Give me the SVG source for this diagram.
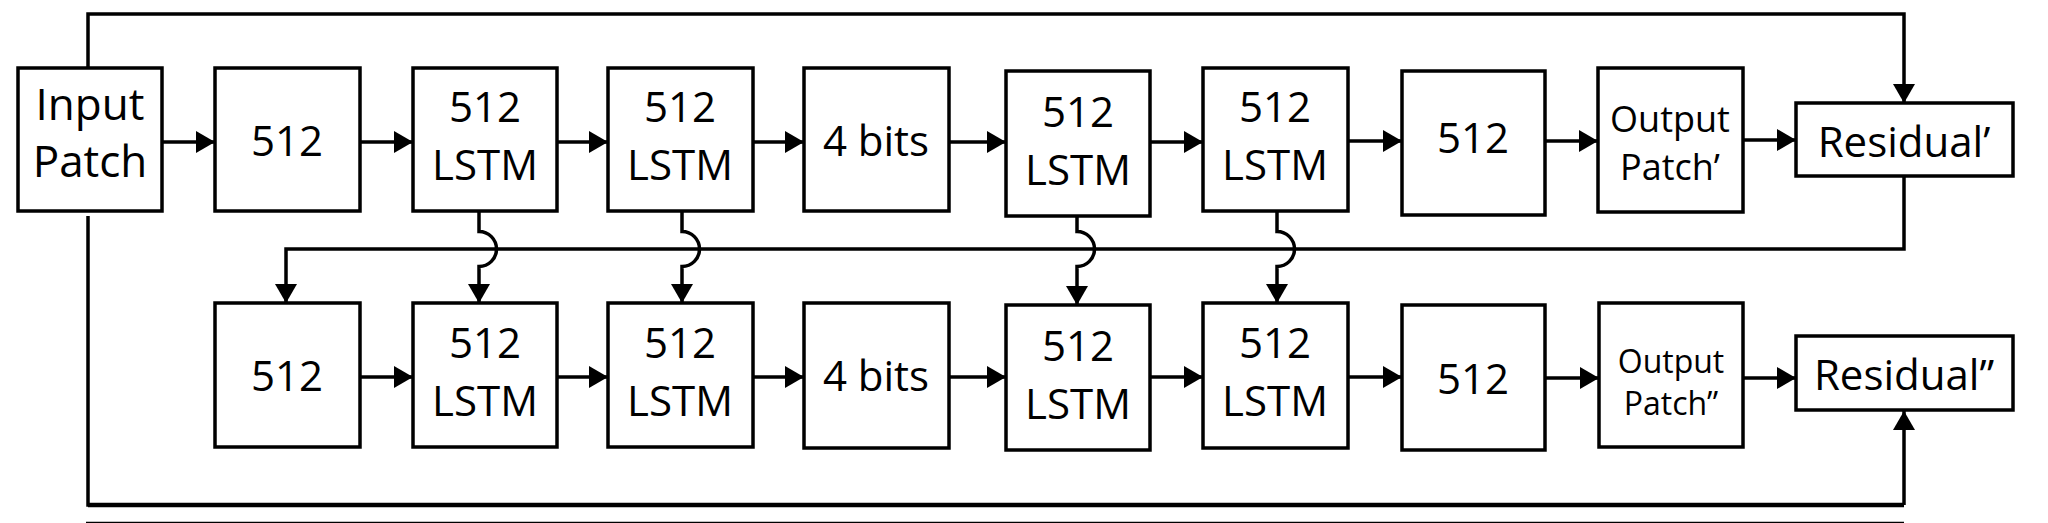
<svg xmlns="http://www.w3.org/2000/svg" width="2048" height="523" viewBox="0 0 2048 523">
<defs>
<style>
.box{fill:#fff;stroke:#000;stroke-width:3.5}
.t{font-family:"Open Sans","Noto Sans","Liberation Sans",sans-serif;font-size:42px;fill:#000;text-anchor:middle}
.big{font-size:44px}
.res{font-size:42px}
.op1{font-size:36px}
.op2{font-size:32px}
.c{fill:none;stroke:#000;stroke-width:3.5}
.thick{stroke-width:4.5}
.thin{stroke-width:1.2}
</style>
<marker id="ah" markerUnits="userSpaceOnUse" markerWidth="20" markerHeight="22" refX="19" refY="11" orient="auto">
<path d="M0,0 L19,11 L0,22 Z" fill="#000"/>
</marker>
</defs>
<rect width="2048" height="523" fill="#fff"/>

<g id="n_input"><rect class="box" x="18" y="68" width="144" height="143"/><text class="t big" x="90" y="120">Input</text><text class="t big" x="90" y="177">Patch</text></g>
<g id="n_t1"><rect class="box" x="215" y="68" width="145" height="143"/><text class="t" x="287" y="156">512</text></g>
<g id="n_t2"><rect class="box" x="413" y="68" width="144" height="143"/><text class="t" x="485" y="122">512</text><text class="t" x="485" y="180">LSTM</text></g>
<g id="n_t3"><rect class="box" x="608" y="68" width="145" height="143"/><text class="t" x="680" y="122">512</text><text class="t" x="680" y="180">LSTM</text></g>
<g id="n_t4"><rect class="box" x="804" y="68" width="145" height="143"/><text class="t" x="876" y="156">4 bits</text></g>
<g id="n_t5"><rect class="box" x="1006" y="71" width="144" height="145"/><text class="t" x="1078" y="127">512</text><text class="t" x="1078" y="185">LSTM</text></g>
<g id="n_t6"><rect class="box" x="1203" y="68" width="145" height="143"/><text class="t" x="1275" y="122">512</text><text class="t" x="1275" y="180">LSTM</text></g>
<g id="n_t7"><rect class="box" x="1402" y="71" width="143" height="144"/><text class="t" x="1473" y="153">512</text></g>
<g id="n_t8"><rect class="box" x="1598" y="68" width="145" height="144"/><text class="t op1" x="1670" y="132">Output</text><text class="t op1" x="1670" y="180">Patch’</text></g>
<g id="n_t9"><rect class="box" x="1796" y="103" width="217" height="73"/><text class="t res" x="1904" y="157">Residual’</text></g>

<g id="n_b1"><rect class="box" x="215" y="303" width="145" height="144"/><text class="t" x="287" y="391">512</text></g>
<g id="n_b2"><rect class="box" x="413" y="303" width="144" height="144"/><text class="t" x="485" y="358">512</text><text class="t" x="485" y="416">LSTM</text></g>
<g id="n_b3"><rect class="box" x="608" y="303" width="145" height="144"/><text class="t" x="680" y="358">512</text><text class="t" x="680" y="416">LSTM</text></g>
<g id="n_b4"><rect class="box" x="804" y="303" width="145" height="145"/><text class="t" x="876" y="391">4 bits</text></g>
<g id="n_b5"><rect class="box" x="1006" y="305" width="144" height="145"/><text class="t" x="1078" y="361">512</text><text class="t" x="1078" y="419">LSTM</text></g>
<g id="n_b6"><rect class="box" x="1203" y="303" width="145" height="145"/><text class="t" x="1275" y="358">512</text><text class="t" x="1275" y="416">LSTM</text></g>
<g id="n_b7"><rect class="box" x="1402" y="305" width="143" height="145"/><text class="t" x="1473" y="394">512</text></g>
<g id="n_b8"><rect class="box" x="1599" y="303" width="144" height="144"/><text class="t op2" x="1671" y="373">Output</text><text class="t op2" x="1671" y="415">Patch”</text></g>
<g id="n_b9"><rect class="box" x="1796" y="336" width="217" height="74"/><text class="t res" x="1904" y="390">Residual”</text></g>

<g id="connectors">
<path class="c" d="M162,142 H215" marker-end="url(#ah)"/>
<path class="c" d="M360,142 H413" marker-end="url(#ah)"/>
<path class="c" d="M557,142 H608" marker-end="url(#ah)"/>
<path class="c" d="M753,142 H804" marker-end="url(#ah)"/>
<path class="c" d="M949,142 H1006" marker-end="url(#ah)"/>
<path class="c" d="M1150,142 H1203" marker-end="url(#ah)"/>
<path class="c" d="M1348,141 H1402" marker-end="url(#ah)"/>
<path class="c" d="M1545,141 H1598" marker-end="url(#ah)"/>
<path class="c" d="M1743,140 H1796" marker-end="url(#ah)"/>

<path class="c" d="M360,377 H413" marker-end="url(#ah)"/>
<path class="c" d="M557,377 H608" marker-end="url(#ah)"/>
<path class="c" d="M753,377 H804" marker-end="url(#ah)"/>
<path class="c" d="M949,377 H1006" marker-end="url(#ah)"/>
<path class="c" d="M1150,377 H1203" marker-end="url(#ah)"/>
<path class="c" d="M1348,377 H1402" marker-end="url(#ah)"/>
<path class="c" d="M1545,378 H1599" marker-end="url(#ah)"/>
<path class="c" d="M1743,378 H1796" marker-end="url(#ah)"/>

<path class="c" d="M88,68 V14 H1904 V103" marker-end="url(#ah)"/>
<path class="c" d="M88,216 V505 H1904"/>
<path class="c thick" d="M88,505 H1904"/>
<path class="c" d="M1904,505 V411" marker-end="url(#ah)"/>
<path class="c thin" d="M86,522.4 H1904"/>

<path class="c" d="M1904,176 V249 H286 V303" marker-end="url(#ah)"/>

<path class="c" d="M479,211 V231.5 A17.5,17.5 0 0 1 479,266.5 V303" marker-end="url(#ah)"/>
<path class="c" d="M682,211 V231.5 A17.5,17.5 0 0 1 682,266.5 V303" marker-end="url(#ah)"/>
<path class="c" d="M1077,216 V231.5 A17.5,17.5 0 0 1 1077,266.5 V305" marker-end="url(#ah)"/>
<path class="c" d="M1277,211 V231.5 A17.5,17.5 0 0 1 1277,266.5 V303" marker-end="url(#ah)"/>
</g>
</svg>
